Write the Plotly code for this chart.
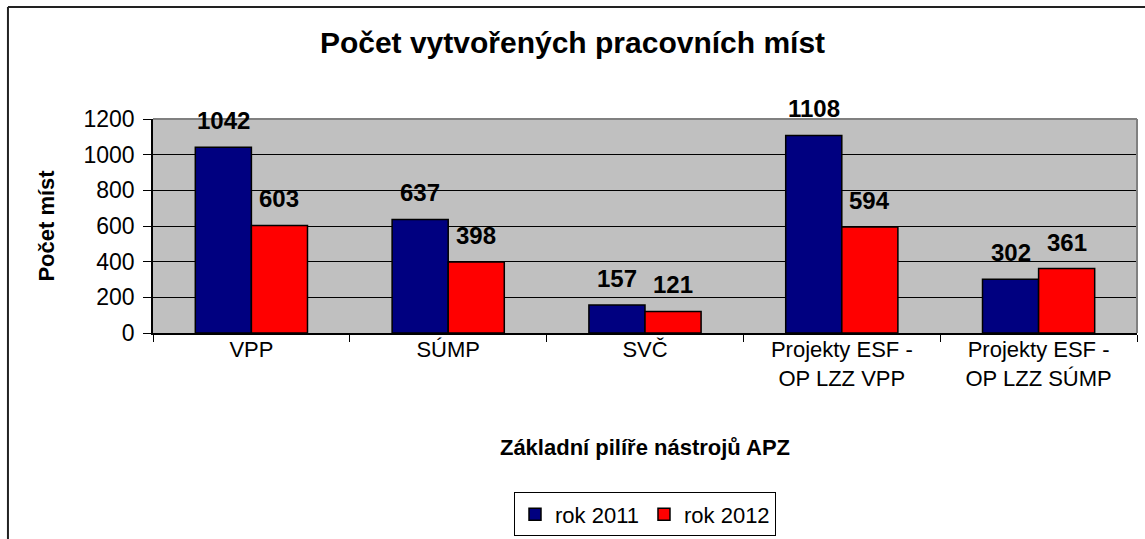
import plotly.graph_objects as go

categories = ["VPP", "SÚMP", "SVČ", "Projekty ESF -<br>OP LZZ VPP", "Projekty ESF -<br>OP LZZ SÚMP"]
series_names = ["rok 2011", "rok 2012"]
values_2011 = [1042, 637, 157, 1108, 302]
values_2012 = [603, 398, 121, 594, 361]
y_ticks = [0, 200, 400, 600, 800, 1000, 1200]

colors = ["#000080", "#FF0000"]
bar_w = 0.285
FONT = "Liberation Sans, Arial, sans-serif"

fig = go.Figure()
for name, vals, col, off in [(series_names[0], values_2011, colors[0], -bar_w),
                             (series_names[1], values_2012, colors[1], 0.0)]:
    fig.add_trace(go.Bar(
        x=categories, y=vals, name=name,
        marker=dict(color=col, line=dict(color="black", width=1.5)),
        width=bar_w, offset=off, cliponaxis=False,
    ))

annotations = []
for vals, off in [(values_2011, -bar_w / 2), (values_2012, bar_w / 2)]:
    for i, v in enumerate(vals):
        annotations.append(dict(
            x=i + off, y=v, xref="x", yref="y", text=f"<b>{v}</b>",
            showarrow=False, yanchor="bottom", yshift=11,
            font=dict(family=FONT, size=24, color="black"),
        ))

shapes = [
    dict(type="line", xref="paper", yref="paper", x0=0, x1=1, y0=1, y1=1,
         line=dict(color="#808080", width=2), layer="above"),
    dict(type="line", xref="paper", yref="paper", x0=1, x1=1, y0=0, y1=1,
         line=dict(color="#808080", width=2), layer="above"),
    dict(type="line", xref="paper", yref="paper", x0=-0.1474, x1=1.02, y0=1.5234, y1=1.5234,
         line=dict(color="#222222", width=2)),
    dict(type="line", xref="paper", yref="paper", x0=-0.1474, x1=-0.1474, y0=1.5234, y1=-1.05,
         line=dict(color="#222222", width=2)),
]

fig.update_layout(
    width=1145, height=539,
    margin=dict(l=153, r=8, t=119, b=206, autoexpand=False),
    paper_bgcolor="white", plot_bgcolor="#C0C0C0",
    font=dict(family=FONT, size=21, color="black"),
    title=dict(text="<b>Počet vytvořených pracovních míst</b>", x=0.5, xref="container",
               y=1 - 42 / 539, yref="container", yanchor="middle",
               font=dict(family=FONT, size=30, color="black")),
    barmode="group",
    showlegend=True,
    legend=dict(orientation="h", x=0.5, xanchor="center", y=-0.745, yanchor="top",
                bgcolor="white", bordercolor="black", borderwidth=1,
                font=dict(family=FONT, size=22, color="black"),
                traceorder="normal", tracegroupgap=0),
    annotations=annotations,
    shapes=shapes,
)
fig.update_xaxes(
    type="category", range=[-0.5, 4.5], tickson="boundaries", automargin=False,
    ticks="outside", ticklen=7, tickcolor="black", tickwidth=1,
    showline=True, linecolor="black", linewidth=1.5, ticklabelstandoff=-4,
    tickfont=dict(family=FONT, size=22, color="black"),
    title=dict(text="<b>Základní pilíře nástrojů APZ</b>", standoff=50,
               font=dict(family=FONT, size=22, color="black")),
    showgrid=False,
)
fig.update_yaxes(
    range=[0, 1200], tickvals=y_ticks, ticks="outside", ticklen=8, automargin=False,
    tickcolor="black", tickwidth=1, ticklabelstandoff=4,
    showline=True, linecolor="black", linewidth=1.5,
    showgrid=True, gridcolor="black", gridwidth=1, zeroline=False,
    tickfont=dict(family=FONT, size=23, color="black"),
    title=dict(text="<b>Počet míst</b>", standoff=23,
               font=dict(family=FONT, size=22, color="black")),
)

fig.write_html("out.html", config={"displayModeBar": False},
               post_script="document.body.style.margin='0px';")
